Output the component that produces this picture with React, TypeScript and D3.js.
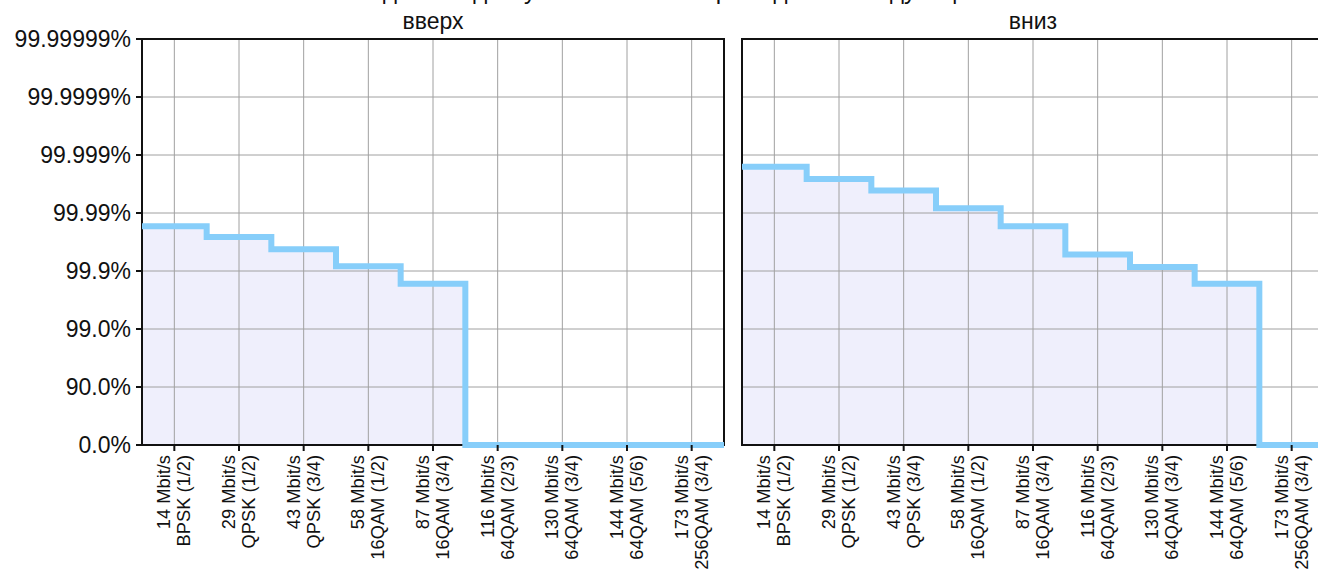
import React from "react";
import * as d3 from "d3";

const rates = ["14 Mbit/s", "29 Mbit/s", "43 Mbit/s", "58 Mbit/s", "87 Mbit/s", "116 Mbit/s", "130 Mbit/s", "144 Mbit/s", "173 Mbit/s"];
const modulations = ["BPSK (1/2)", "QPSK (1/2)", "QPSK (3/4)", "16QAM (1/2)", "16QAM (3/4)", "64QAM (2/3)", "64QAM (3/4)", "64QAM (5/6)", "256QAM (3/4)"];
const upValues = [99.983, 99.974, 99.958, 99.917, 99.834, 0, 0, 0, 0];
const downValues = [99.9984, 99.9974, 99.9959, 99.9917, 99.983, 99.948, 99.915, 99.834, 0];
const yTickValues = [0, 90, 99, 99.9, 99.99, 99.999, 99.9999, 99.99999];
const yTickLabels = ["0.0%", "90.0%", "99.0%", "99.9%", "99.99%", "99.999%", "99.9999%", "99.99999%"];
const panelTitles = ["вверх", "вниз"];
const chartTitle = "Ожидаемая доступность канала при заданной модуляции";

const W = 1318;
const H = 570;
const FONT = "'Liberation Sans', Arial, sans-serif";
const top = 39;
const bottom = 445;
const panels = [
  { x0: 142, x1: 724, values: upValues, title: panelTitles[0], yAxis: true },
  { x0: 742, x1: 1324, values: downValues, title: panelTitles[1], yAxis: false },
];

const nines = (p: number) => (p <= 0 ? 0 : -Math.log10(1 - p / 100));
const y = d3.scaleLinear().domain([0, 7]).range([bottom, top]);

function Panel({ x0, x1, values, title, yAxis }: any) {
  const idx = values.map((_: number, i: number) => i);
  const x = d3.scaleBand<number>().domain(idx).range([x0, x1]).padding(0);
  const pts: [number, number][] = values.map((v: number, i: number) => [x(i)!, y(nines(v))]);
  pts.push([x1, y(nines(values[values.length - 1]))]);
  const line = d3.line().curve(d3.curveStepAfter)(pts) as string;
  const area = d3
    .area<[number, number]>()
    .curve(d3.curveStepAfter)
    .x((d) => d[0])
    .y0(bottom)
    .y1((d) => d[1])(pts) as string;
  const cx = (i: number) => x(i)! + x.bandwidth() / 2;
  return (
    <g>
      <path d={area} fill="#efeffc" />
      {idx.map((i: number) => (
        <line key={"vg" + i} x1={cx(i)} x2={cx(i)} y1={top} y2={bottom} stroke="#a0a0a0" strokeWidth={1} />
      ))}
      {yTickValues.map((v, i) => (
        <line key={"hg" + i} x1={x0} x2={x1} y1={y(nines(v))} y2={y(nines(v))} stroke="#a0a0a0" strokeWidth={1} />
      ))}
      <rect x={x0} y={top} width={x1 - x0} height={bottom - top} fill="none" stroke="#111" strokeWidth={2} />
      <path d={line} fill="none" stroke="#87cefa" strokeWidth={6} />
      {idx.map((i: number) => (
        <line key={"xt" + i} x1={cx(i)} x2={cx(i)} y1={bottom} y2={bottom + 6} stroke="#111" strokeWidth={2} />
      ))}
      {idx.map((i: number) => (
        <text
          key={"xl" + i}
          transform={`translate(${cx(i)},${bottom + 10}) rotate(-90)`}
          textAnchor="end"
          fontFamily={FONT}
          fontSize={18.3}
          fill="#111"
        >
          <tspan x={0} dy={-4}>{rates[i]}</tspan>
          <tspan x={0} dy={20}>{modulations[i]}</tspan>
        </text>
      ))}
      {yAxis &&
        yTickValues.map((v, i) => (
          <g key={"yt" + i}>
            <line x1={x0 - 6} x2={x0} y1={y(nines(v))} y2={y(nines(v))} stroke="#111" strokeWidth={2} />
            <text x={x0 - 11} y={y(nines(v))} dy="0.36em" textAnchor="end" fontFamily={FONT} fontSize={23} fill="#111">
              {yTickLabels[i]}
            </text>
          </g>
        ))}
      <text x={(x0 + x1) / 2} y={29} textAnchor="middle" fontFamily={FONT} fontSize={23} fill="#111">
        {title}
      </text>
    </g>
  );
}

export default function App() {
  return (
    <svg width={W} height={H} style={{ position: "absolute", left: 0, top: 0, background: "#fff" }}>
      <rect width={W} height={H} fill="#fff" />
      <text x={659} y={-1} textAnchor="middle" fontFamily={FONT} fontSize={24} fill="#111">
        {chartTitle}
      </text>
      {panels.map((p, i) => (
        <Panel key={i} {...p} />
      ))}
    </svg>
  );
}
